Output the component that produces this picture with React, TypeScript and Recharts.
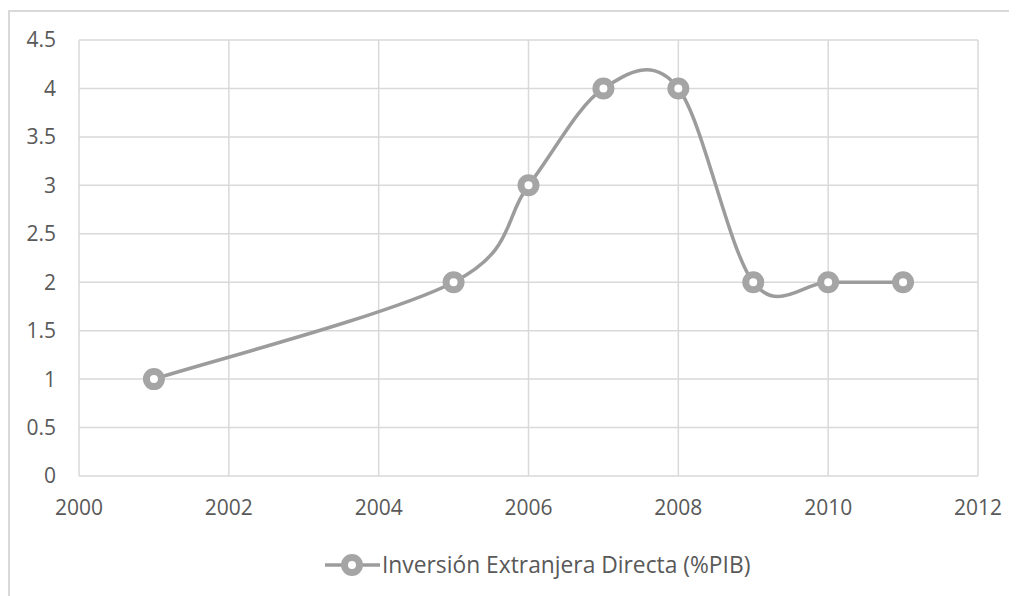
import React from 'react';
import { LineChart, Line, XAxis, YAxis, CartesianGrid, Legend } from 'recharts';

const years = [2001, 2005, 2006, 2007, 2008, 2009, 2010, 2011];
const ied = [1, 2, 3, 4, 4, 2, 2, 2];
const xTicks = [2000, 2002, 2004, 2006, 2008, 2010, 2012];
const yTicks = [0, 0.5, 1, 1.5, 2, 2.5, 3, 3.5, 4, 4.5];
const seriesName = 'Inversión Extranjera Directa (%PIB)';

const data = years.map((year, i) => ({ year, value: ied[i] }));

const FONT = '"Open Sans", "Noto Sans", sans-serif';
const GRID = '#d9d9d9';
const TEXT = '#595959';
const LINE = '#9c9c9c';
const MARK = '#a5a5a5';

// Excel style smoothed line (Catmull-Rom, control points at 1/6)
const smoothCurve: any = (context: any) => {
    let pts: number[][] = [];
    return {
        areaStart() {},
        areaEnd() {},
        lineStart() {
            pts = [];
        },
        point(x: number, y: number) {
            pts.push([+x, +y]);
        },
        lineEnd() {
            if (!pts.length) return;
            context.moveTo(pts[0][0], pts[0][1]);
            for (let i = 0; i < pts.length - 1; i++) {
                const p0 = pts[i - 1] || pts[i];
                const p1 = pts[i];
                const p2 = pts[i + 1];
                const p3 = pts[i + 2] || pts[i + 1];
                context.bezierCurveTo(
                    p1[0] + (p2[0] - p0[0]) / 6,
                    p1[1] + (p2[1] - p0[1]) / 6,
                    p2[0] - (p3[0] - p1[0]) / 6,
                    p2[1] - (p3[1] - p1[1]) / 6,
                    p2[0],
                    p2[1]
                );
            }
        },
    };
};

const LegendContent = () => (
    <div
        style={{
            boxSizing: 'border-box',
            height: 50,
            display: 'flex',
            alignItems: 'flex-start',
            paddingTop: 6,
            paddingLeft: 315,
        }}
    >
        <svg width={57} height={22}>
            <line x1={0} y1={11} x2={55} y2={11} stroke={LINE} strokeWidth={3.5} />
            <circle cx={27} cy={11} r={7.5} fill="#fff" stroke={MARK} strokeWidth={7} />
        </svg>
        <span style={{ fontFamily: FONT, fontSize: 22.8, color: TEXT, lineHeight: '22px' }}>{seriesName}</span>
    </div>
);

const App: React.FC = () => {
    return (
        <div
            style={{
                position: 'relative',
                top: 2,
                width: 1009,
                height: 588,
                borderTop: `2px solid ${GRID}`,
                borderLeft: `2px solid ${GRID}`,
                background: '#fff',
            }}
        >
            <LineChart width={1000} height={586} data={data} margin={{ top: 28, right: 32, bottom: 0, left: 0 }}>
                <CartesianGrid stroke={GRID} strokeWidth={1.5} />
                <XAxis
                    dataKey="year"
                    type="number"
                    domain={[2000, 2012]}
                    ticks={xTicks}
                    axisLine={false}
                    tickLine={false}
                    tickSize={0}
                    tickMargin={24}
                    height={72}
                    tick={{ fill: TEXT, fontSize: 21, fontFamily: FONT }}
                />
                <YAxis
                    type="number"
                    domain={[0, 4.5]}
                    ticks={yTicks}
                    axisLine={false}
                    tickLine={false}
                    tickSize={0}
                    tickMargin={23}
                    width={69}
                    tick={{ fill: TEXT, fontSize: 21, fontFamily: FONT }}
                />
                <Legend verticalAlign="bottom" content={<LegendContent />} />
                <Line
                    dataKey="value"
                    name={seriesName}
                    type={smoothCurve}
                    stroke={LINE}
                    strokeWidth={3.5}
                    dot={{ r: 7.5, fill: '#fff', stroke: MARK, strokeWidth: 7 }}
                    activeDot={false}
                    isAnimationActive={false}
                />
            </LineChart>
        </div>
    );
};

export default App;
